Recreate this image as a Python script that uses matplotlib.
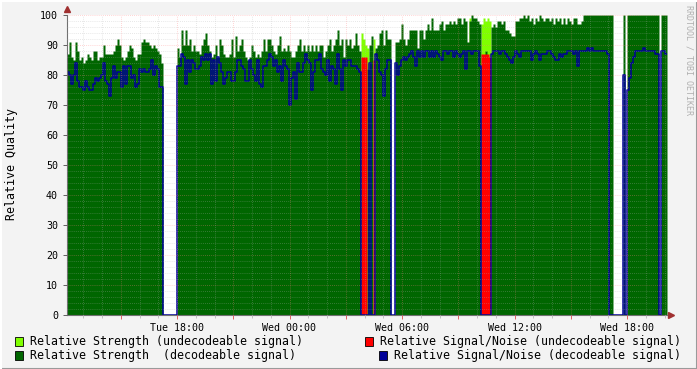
import numpy as np
import matplotlib
matplotlib.use('Agg')
import matplotlib.pyplot as plt
import matplotlib.dates as mdates
from matplotlib.patches import Rectangle
from matplotlib.lines import Line2D
from datetime import datetime, timedelta

# one sample every 6.4 minutes, starting Tue 12:08
start = datetime(2024, 1, 2, 12, 8)
step_min = 6.4

# relative strength, decodeable signal
strength_dec = ([87, 91, 86, 85, 91, 88, 85, 86, 84, 85, 87, 86, 85, 88, 88, 85, 86, 86, 90, 87,
                 87, 87, 87, 88, 90, 92, 90, 86, 85, 86, 88, 90, 89, 86, 85, 87, 87, 91, 92, 91,
                 91, 90, 89, 90, 89, 88, 87, 84]
                + [0] * 7
                + [89, 86, 95, 90, 95, 90, 92, 88, 90, 88, 88, 87, 90, 92, 94, 90, 88, 86, 87, 90,
                   86, 92, 90, 87, 86, 86, 87, 92, 86, 93, 88, 90, 92, 88, 86, 85, 86, 90, 88, 86,
                   87, 86, 88, 92, 88, 92, 92, 90]
                + [88, 87, 90, 93, 88, 89, 88, 90, 88, 86, 86, 88, 90, 92, 88, 90, 88, 90, 88, 90,
                   88, 90, 88, 90, 90, 86, 88, 90, 92, 88, 90, 92, 95, 90, 92, 86, 92, 90, 92, 89,
                   90, 94, 90, 88]
                + [0, 0, 0, 82, 90, 93, 0]
                + [89, 90, 94, 95, 90, 95, 92, 92]
                + [0, 0]
                + [91, 91, 92, 97, 92, 90, 92, 95, 95, 95, 95, 89, 95, 95, 92, 95, 97, 95, 99, 95,
                   95, 95, 97, 98, 95, 97, 97, 98, 97, 98, 97, 99, 99, 97, 99, 98, 91, 98, 100, 99]
                + [99, 98, 97]
                + [0, 0, 88, 0, 0]
                + [96, 97, 96, 98, 98, 97, 98, 95, 95, 94, 93, 93, 98, 98, 99, 99, 100, 99, 100, 98,
                   99, 97, 99, 98, 100, 99, 98, 99, 99, 98, 99, 97, 99, 98, 99, 97, 99, 97, 99, 98,
                   97, 99, 99]
                + [97, 97, 98] + [100] * 15 + [0] * 5 + [100] + [0] + [100] * 16 + [0] + [100] * 3)

# relative signal/noise, decodeable signal
sn_dec = ([81, 80, 77, 80, 84, 78, 76, 76, 75, 78, 76, 75, 75, 77, 79, 78, 79, 80, 84, 78,
           77, 73, 79, 83, 79, 81, 81, 76, 83, 77, 83, 83, 79, 80, 76, 77, 82, 81, 82, 81,
           81, 82, 85, 80, 83, 82, 76, 76]
          + [0] * 7
          + [83, 83, 87, 86, 77, 85, 81, 85, 84, 82, 82, 83, 86, 85, 87, 85, 87, 77, 85, 78,
             86, 84, 81, 77, 79, 81, 81, 78, 78, 81, 85, 85, 83, 82, 78, 78, 85, 82, 80, 78,
             85, 77, 76, 83, 83, 85, 87, 86]
          + [83, 85, 81, 83, 78, 85, 83, 82, 70, 79, 81, 72, 84, 81, 81, 84, 87, 85, 84, 75,
             81, 85, 85, 87, 82, 81, 80, 85, 78, 83, 82, 77, 87, 82, 75, 85, 83, 85, 85, 83,
             83, 83, 82, 81]
          + [0, 0, 0, 0, 84, 0, 0]
          + [87, 85, 81, 80, 73, 82, 85, 85]
          + [0, 0]
          + [84, 80, 83, 85, 86, 85, 86, 87, 88, 86, 83, 88, 86, 88, 86, 88, 88, 86, 88, 86,
             88, 87, 86, 85, 88, 88, 87, 88, 88, 86, 88, 87, 86, 87, 88, 82, 88, 88, 87, 88]
          + [88, 88, 83]
          + [0] * 5
          + [87, 88, 88, 88, 87, 88, 88, 87, 86, 85, 84, 86, 88, 87, 86, 88, 88, 88, 88, 88,
             85, 87, 88, 87, 85, 87, 87, 87, 88, 88, 87, 86, 85, 85, 87, 86, 87, 87, 88, 88,
             88, 87, 88]
          + [83, 88, 88]
          + [88, 88, 89, 88, 89, 88, 88, 88, 88, 88, 88, 88, 87]
          + [0] * 7 + [80] + [0]
          + [75, 79, 84, 86, 88, 88, 88, 88, 89, 88, 88, 88, 88, 88, 87, 87]
          + [0] + [88, 88, 87])

# samples where the signal could not be decoded
undec_idx = [147, 148, 149, 150, 153, 201, 207, 208, 209, 210, 211]
strength_undec = [94, 92, 90, 89, 92, 99, 97, 99, 98, 99, 98]
sn_undec = [86, 86, 86, 0, 85, 0, 87, 87, 87, 87, 86]

n = len(strength_dec)
dg = np.array(strength_dec, dtype=float)
bl = np.array(sn_dec, dtype=float)
lg = np.zeros(n)
rd = np.zeros(n)
lg[undec_idx] = strength_undec
rd[undec_idx] = sn_undec

t = mdates.date2num([start + timedelta(minutes=step_min * k) for k in range(n + 1)])


def ext(a):
    return np.append(a, a[-1])


mono = 'DejaVu Sans Mono'
fig = plt.figure(figsize=(6.97, 3.69), dpi=100, facecolor='#f3f3f3')
ax = fig.add_axes([67 / 697, 54 / 369, 600 / 697, 300 / 369])
ax.set_facecolor('white')

ax.fill_between(t, ext(lg), step='post', color='#80ff00', linewidth=0, zorder=1)
ax.fill_between(t, ext(dg), step='post', color='#006600', linewidth=0, zorder=1.1)
ax.fill_between(t, ext(rd), step='post', color='#ff0000', linewidth=0, zorder=1.2)
ax.step(t, ext(bl), where='post', color='#000099', linewidth=1.1, zorder=2)

ax.set_xlim(t[0], t[-1])
ax.set_ylim(0, 100)

ax.xaxis.set_major_locator(mdates.HourLocator(byhour=range(0, 24, 3)))
ax.xaxis.set_minor_locator(mdates.HourLocator())
fmt = mdates.DateFormatter('%a %H:%M')
ax.xaxis.set_major_formatter(plt.FuncFormatter(
    lambda v, p: fmt(v) if mdates.num2date(v).hour % 6 == 0 else ''))
ax.set_yticks(np.arange(0, 101, 10))
ax.set_yticks(np.arange(0, 101, 2), minor=True)

ax.set_axisbelow(False)
ax.grid(which='minor', color='#b0b0b0', alpha=0.4, linewidth=0.6, linestyle=(0, (1, 1.5)))
ax.grid(which='major', color='#ff8080', alpha=0.45, linewidth=0.6, linestyle=(0, (1, 1.5)))

ax.tick_params(axis='x', which='major', length=3, width=0.7, color='#e06060', pad=2.5,
               labelsize=7.2, direction='out')
ax.tick_params(axis='x', which='minor', length=2, width=0.7, color='#c0c0c0', direction='out')
ax.tick_params(axis='y', which='major', length=3, width=0.7, color='#606060', pad=3.5,
               labelsize=7.2, direction='out')
ax.tick_params(axis='y', which='minor', length=0)
for lab in ax.get_xticklabels() + ax.get_yticklabels():
    lab.set_fontfamily(mono)

for s in ['top', 'right']:
    ax.spines[s].set_visible(False)
for s in ['left', 'bottom']:
    ax.spines[s].set_color('#707070')
    ax.spines[s].set_linewidth(0.8)

# axis arrows
ax.plot([0], [1.02], marker='^', color='#a03030', markersize=4, transform=ax.transAxes, clip_on=False)
ax.plot([1.007], [0], marker='>', color='#a03030', markersize=4, transform=ax.transAxes, clip_on=False)

fig.text(12 / 697, 1 - 164 / 369, 'Relative Quality', rotation=90, ha='center', va='center',
         fontsize=8.4, family=mono)
fig.text(689 / 697, 1 - 5 / 369, 'RRDTOOL / TOBI OETIKER', rotation=270, ha='center', va='top',
         fontsize=6, family=mono, color='#b0b0b0')

legend_items = [
    ('#80ff00', 'Relative Strength (undecodeable signal)', 15, 341),
    ('#006600', 'Relative Strength  (decodeable signal)', 15, 355),
    ('#ff0000', 'Relative Signal/Noise (undecodeable signal)', 365, 341),
    ('#000099', 'Relative Signal/Noise (decodeable signal)', 379, 355),
]
for color, label, x0, yc in legend_items:
    fig.add_artist(Rectangle((x0 / 697, 1 - (yc + 4.5) / 369), 8 / 697, 9 / 369,
                             facecolor=color, edgecolor='black', linewidth=0.6,
                             transform=fig.transFigure))
    fig.text((x0 + 15) / 697, 1 - yc / 369, label, ha='left', va='center',
             fontsize=8.4, family=mono)

# 3d frame
fig.add_artist(Line2D([0, 1], [0.5 / 369, 0.5 / 369], color='#9a9a9a', linewidth=1.5, transform=fig.transFigure))
fig.add_artist(Line2D([1 - 0.5 / 697, 1 - 0.5 / 697], [0, 1], color='#9a9a9a', linewidth=1.5, transform=fig.transFigure))
fig.add_artist(Line2D([0, 1], [1 - 0.5 / 369, 1 - 0.5 / 369], color='white', linewidth=1.5, transform=fig.transFigure))
fig.add_artist(Line2D([0.5 / 697, 0.5 / 697], [0, 1], color='white', linewidth=1.5, transform=fig.transFigure))

fig.savefig('out.png', dpi=100, facecolor=fig.get_facecolor())
